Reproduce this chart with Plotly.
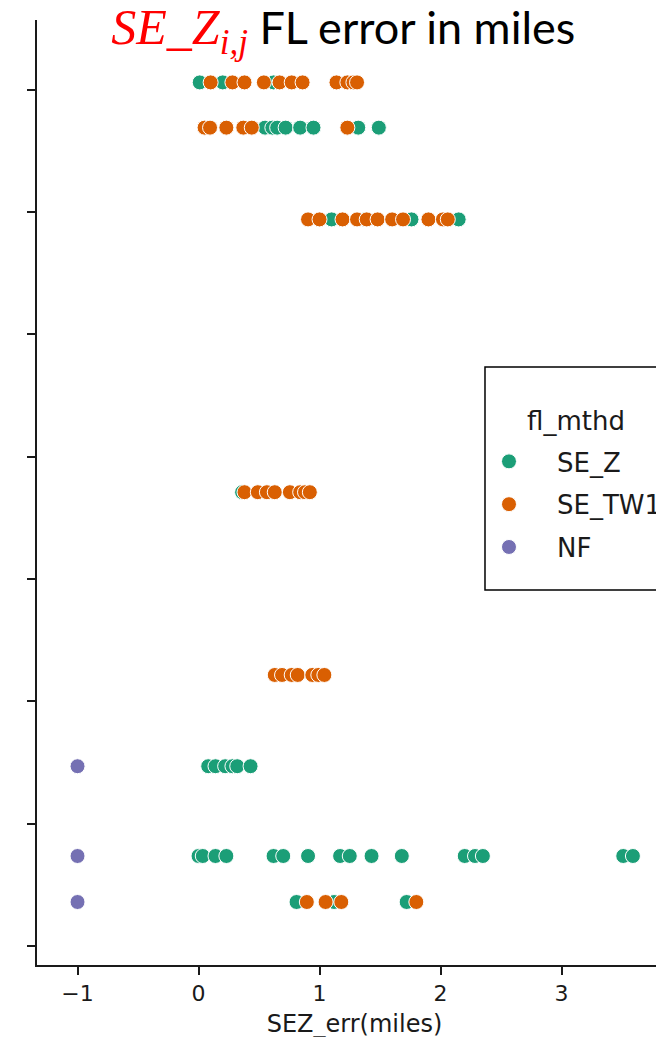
import plotly.graph_objects as go

# Row positions (y, in axis units; ticks every 1 unit)
row_pos = [0.36, 0.736, 1.47, 2.216, 3.71, 5.94, 6.69, 7.06]
y_ticks = [0, 1, 2, 3, 4, 5, 6, 7]
x_ticks = [-1, 0, 1, 2, 3]

# SE_Z points: (row index, x)
se_z_rows = [7, 7, 7,
             6, 6, 6, 6, 6, 6, 6, 6,
             5, 5, 5, 5,
             4,
             2, 2, 2, 2, 2, 2,
             1, 1, 1, 1, 1, 1, 1, 1, 1, 1, 1, 1, 1, 1, 1, 1,
             0, 0, 0]
se_z_x = [0.01, 0.20, 0.62,
          0.55, 0.61, 0.65, 0.72, 0.84, 0.95, 1.32, 1.49,
          1.10, 1.38, 1.76, 2.15,
          0.36,
          0.08, 0.14, 0.22, 0.28, 0.32, 0.43,
          0.0, 0.035, 0.14, 0.23, 0.62, 0.70, 0.905, 1.17, 1.25, 1.43, 1.68, 2.20, 2.285, 2.35, 3.51, 3.59,
          0.81, 1.12, 1.72]

# SE_TW1 points
se_tw1_rows = [7] * 11 + [6] * 6 + [5] * 11 + [4] * 8 + [3] * 7 + [0] * 4
se_tw1_x = [0.10, 0.28, 0.38, 0.54, 0.67, 0.77, 0.86, 1.14, 1.23, 1.28, 1.31,
            0.05, 0.095, 0.23, 0.37, 0.44, 1.23,
            0.905, 1.00, 1.19, 1.31, 1.39, 1.48, 1.60, 1.69, 1.90, 2.02, 2.06,
            0.38, 0.49, 0.565, 0.63, 0.755, 0.84, 0.88, 0.92,
            0.63, 0.69, 0.77, 0.82, 0.94, 0.99, 1.04,
            0.895, 1.05, 1.18, 1.80]

# NF points
nf_rows = [2, 1, 0]
nf_x = [-1, -1, -1]

series = [
    ("SE_Z", se_z_x, se_z_rows, "#1b9e77"),
    ("SE_TW1", se_tw1_x, se_tw1_rows, "#d95f02"),
    ("NF", nf_x, nf_rows, "#7570b3"),
]

fig = go.Figure()
for name, xs, rs, col in series:
    fig.add_trace(go.Scatter(
        x=xs, y=[row_pos[r] for r in rs], mode="markers", name=name,
        legendgroup=name,
        marker=dict(color=col, size=15, line=dict(color="white", width=1)),
    ))

# legend frame and title
fig.add_shape(type="rect", xref="paper", yref="paper",
              x0=0.7055, x1=1.1, y0=0.3968, y1=0.6328,
              line=dict(color="black", width=1.5), fillcolor="white", layer="below")
fig.add_annotation(text="fl_mthd", xref="paper", yref="paper",
                   x=0.7685, y=0.5757, xanchor="left", yanchor="middle",
                   showarrow=False, font=dict(size=26, color="#1a1a1a"))

fig.update_layout(
    width=664, height=1037,
    margin=dict(l=29, r=0, t=12, b=80, autoexpand=False),
    paper_bgcolor="white", plot_bgcolor="white",
    font=dict(family="DejaVu Sans", size=22, color="#1a1a1a"),
    title=dict(
        text="<span style='font-family:Liberation Serif;color:#ff0000;font-size:50px'><i>SE_Z</i><sub><i>i,j</i></sub></span>"
             "<span style='font-family:Lato'> FL error in miles</span>",
        x=0.505, xref="container", xanchor="center",
        y=1 - 20 / 1037, yref="container", yanchor="middle",
        font=dict(size=45, color="black"),
    ),
    xaxis=dict(
        range=[-1.335, 3.913], tickvals=x_ticks, ticks="outside", ticklen=8,
        tickwidth=1.5, tickcolor="#1a1a1a", showline=True, linecolor="#1a1a1a",
        linewidth=1.7, showgrid=False, zeroline=False, automargin=False,
        title=dict(text="SEZ_err(miles)", font=dict(size=24), standoff=10),
        tickfont=dict(size=22),
    ),
    yaxis=dict(
        range=[-0.155, 7.57], tickvals=y_ticks, ticks="outside", ticklen=8,
        tickwidth=1.5, tickcolor="#1a1a1a", showline=True, linecolor="#1a1a1a",
        linewidth=1.7, showgrid=False, zeroline=False, showticklabels=False,
        automargin=False,
    ),
    legend=dict(
        x=0.6677, y=0.5577, xanchor="left", yanchor="top",
        borderwidth=0, bgcolor="rgba(0,0,0,0)",
        font=dict(size=26), tracegroupgap=6, itemwidth=86,
    ),
    showlegend=True,
)

fig.write_html("out.html")
